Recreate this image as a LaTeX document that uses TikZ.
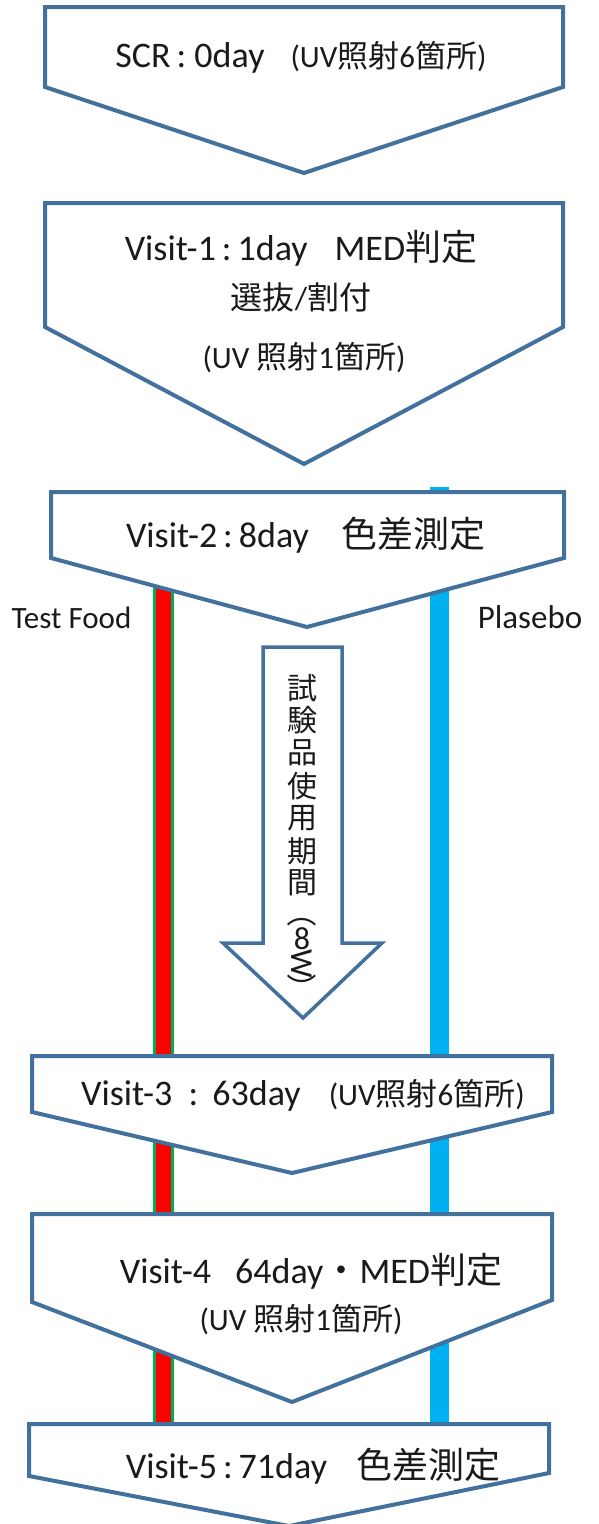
\documentclass[tikz,border=0pt]{standalone}
\usepackage{fontspec}
\setmainfont{Carlito}
\newfontfamily\jp{Noto Sans CJK JP}
\newcommand\J[1]{{\jp #1}}
\newcommand\fsz[1]{\fontsize{#1}{#1}\selectfont}
\definecolor{edgeblue}{HTML}{41719C}
\definecolor{barred}{HTML}{FF0000}
\definecolor{bargreen}{HTML}{00B050}
\definecolor{barblue}{HTML}{00B0F0}
\definecolor{txt}{HTML}{1A1A1A}
\tikzset{
  chev/.style={draw=edgeblue, line width=4pt, fill=white, line join=miter},
  downarrow/.style={draw=edgeblue, line width=3.5pt, fill=white, line join=miter},
  lbl/.style={anchor=base, inner sep=0pt, text=txt},
  vch/.style={anchor=center, inner sep=0pt, text=txt, font=\jp\fsz{30}},
}
\newcommand\chevbox[8]{% name, xl, xr, top, sideL, sideR, tipx, tipy
  \coordinate (#1-tl) at (#2,#4);
  \coordinate (#1-tr) at (#3,#4);
  \coordinate (#1-br) at (#3,#6);
  \coordinate (#1-tip) at (#7,#8);
  \coordinate (#1-bl) at (#2,#5);
  \draw[chev] (#1-tl) -- (#1-tr) -- (#1-br) -- (#1-tip) -- (#1-bl) -- cycle;
}
\begin{document}
\begin{tikzpicture}[x=1pt,y=-1pt]
\useasboundingbox (0,0) rectangle (598,1524);
\clip (0,0) rectangle (598,1524);
\fill[white] (0,0) rectangle (598,1524);

% group bars
\coordinate (redtop) at (163.5,560);
\coordinate (redbot) at (163.5,1424);
\coordinate (bluetop) at (439.5,487);
\coordinate (bluebot) at (439.5,1424);
\fill[bargreen] (153,560) rectangle (174,1424);
\fill[barred] (156,560) rectangle (171,1424);
\fill[barblue] (430,487) rectangle (449,1424);

% step boxes
\chevbox{b1}{45}{563}{7}{87}{87}{304}{173}
\chevbox{b2}{45}{563}{203}{327}{327}{304}{464}
\chevbox{b3}{51}{564}{492}{558}{558}{307}{627}
\chevbox{b4}{32}{552}{1056}{1112}{1112}{292}{1173}
\chevbox{b5}{32}{552}{1214}{1302}{1300}{292}{1402}
\chevbox{b6}{29}{549}{1424}{1476}{1473}{289}{1526}

% texts
\node[lbl] (t1) at (301,67) {\fsz{36}SCR\,:\ 0day\hspace{26pt}{\fsz{31}(UV\J{照射}6\J{箇所})}};
\node[lbl] (t2a) at (301,260) {\fsz{36}Visit-1\,:\,1day\hspace{27pt}MED\J{判定}};
\node[lbl] (t2b) at (301,309) {\fsz{32}\J{選抜}/\J{割付}};
\node[lbl] (t2c) at (304,368) {\fsz{31}(UV \J{照射}1\J{箇所})};
\node[lbl] (t3) at (306,547) {\fsz{36}Visit-2\,:\,8day\hspace{33pt}\J{色差測定}};
\node[lbl] (tf) at (71.5,628) {\fsz{31}Test Food};
\node[lbl] (pl) at (530,628) {\fsz{33}Plasebo};
\node[lbl] (t4) at (303,1105) {\fsz{36}Visit-3\ \ :\ \,63day\hspace{28pt}{\fsz{31}(UV\J{照射}6\J{箇所})}};
\node[lbl] (t5a) at (311,1283) {\fsz{36}Visit-4\hspace{24pt}64day\J{・}MED\J{判定}};
\node[lbl] (t5b) at (301,1330) {\fsz{31}(UV \J{照射}1\J{箇所})};
\node[lbl] (t6) at (313,1478) {\fsz{36}Visit-5\,:\,71day\hspace{29pt}\J{色差測定}};

% usage period arrow
\draw[downarrow] (263,647) -- (342,647) -- (342,943) -- (382,943) -- (303,1018) -- (223,943) -- (263,943) -- cycle;
\node[vch] (v1) at (302,688) {試};
\node[vch] (v2) at (302,720) {験};
\node[vch] (v3) at (302,753) {品};
\node[vch] (v4) at (302,786) {使};
\node[vch] (v5) at (302,818) {用};
\node[vch] (v6) at (302,851) {期};
\node[vch] (v7) at (302,883) {間};
\node[vch] (v8) at (302,912) {\rotatebox{-90}{（}};
\node[vch, font=\fsz{32}] (v9) at (302,939) {8};
\node[vch, font=\fsz{32}] (v10) at (302,964) {\rotatebox{-90}{W}};
\node[vch] (v11) at (302,988) {\rotatebox{-90}{）}};
\end{tikzpicture}
\end{document}
